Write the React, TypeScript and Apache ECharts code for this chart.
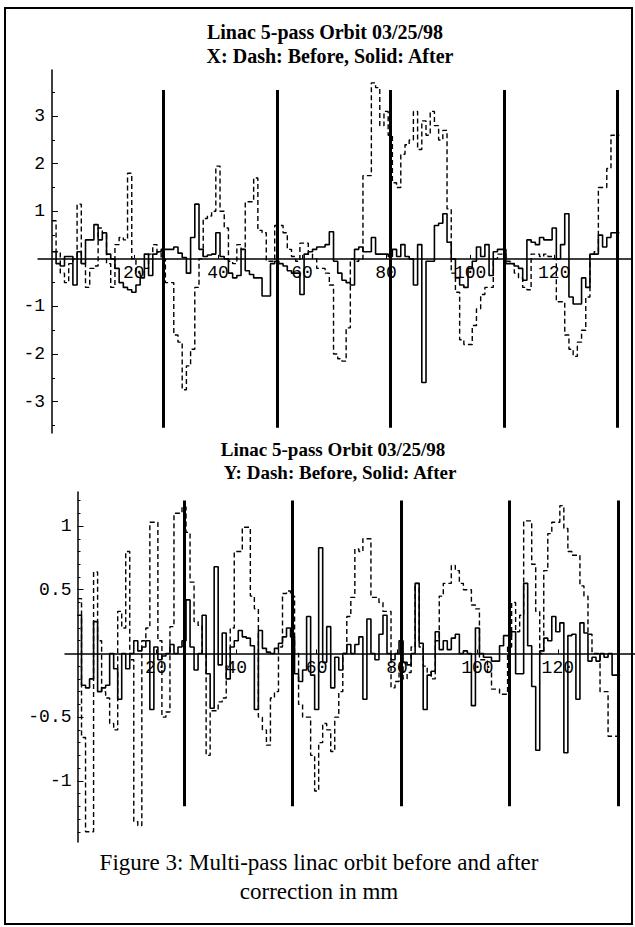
import React, { useEffect, useRef } from "react";
import * as echarts from "echarts";

// BPM index 1..135 ; pass boundaries
const passMarks = [27, 54, 81, 108, 135];
const xTickValues = [20, 40, 60, 80, 100, 120];

// Top panel (X plane), mm
const xBefore = [
  0.8, 0.15, -0.3, -0.5, -0.1, 0.0, 1.15, -0.1, -0.6, -0.2,
  -0.15, 0.65, 0.55, -0.1, -0.6, 0.3, 0.45, 0.4, 1.8, 0.0,
  -0.3, -0.35, -0.2, 0.1, 0.3, 0.15, 0.0, -0.5, -0.5, -1.6,
  -1.75, -2.75, -2.25, -1.9, -0.6, 0.0, 0.85, 0.9, 1.0, 1.95,
  1.0, 0.65, -0.05, -0.1, 0.3, 0.2, 1.2, 1.2, 1.7, 0.6,
  0.55, -0.05, -0.05, 0.7, 0.7, 0.55, 0.2, 0.05, -0.05, 0.33,
  0.33, 0.1, 0.0, -0.2, -0.2, -0.3, -0.55, -2.0, -2.1, -2.15,
  -1.45, 0.0, -0.05, 0.0, 1.75, 1.75, 3.7, 3.6, 2.8, 3.1,
  2.6, 1.6, 1.5, 2.2, 2.4, 2.5, 3.1, 2.3, 2.9, 2.6,
  3.1, 2.8, 2.5, 2.7, 1.05, -0.3, -0.7, -1.7, -1.8, -1.8,
  -1.4, -1.05, -0.75, -0.6, -0.6, 0.0, 0.1, 0.1, -0.05, -0.1,
  -0.3, -0.4, -0.6, -0.65, 0.1, 0.1, 0.05, 0.1, 0.05, 0.0,
  -0.9, -0.9, -1.6, -1.9, -2.05, -1.75, -1.5, -0.8, 0.1, 0.15,
  1.5, 1.5, 1.9, 2.6, 2.6,
];
const xAfter = [
  0.15, -0.1, -0.15, 0.05, 0.05, -0.55, 0.15, -0.1, 0.4, 0.4,
  0.72, 0.4, 0.55, 0.1, 0.0, -0.2, -0.5, -0.6, -0.65, -0.7,
  -0.55, -0.4, 0.1, -0.35, 0.1, 0.15, 0.2, 0.2, 0.2, 0.25,
  0.12, 0.03, -0.3, 0.45, 1.15, 0.2, 0.05, 0.08, 0.1, 0.55,
  0.05, 0.0, -0.3, -0.4, -0.35, 0.2, -0.25, -0.33, -0.4, -0.4,
  -0.78, -0.78, -0.1, -0.05, -0.1, -0.15, -0.25, -0.3, -0.3, -0.75,
  0.1, 0.15, 0.2, 0.25, 0.25, 0.3, 0.57, -0.05, -0.3, -0.45,
  -0.5, -0.55, 0.2, 0.25, 0.15, 0.15, 0.45, 0.1, 0.1, 0.1,
  0.05, 0.2, 0.05, 0.3, 0.05, 0.0, -0.55, 0.3, -2.6, -0.05,
  -0.05, 0.7, 0.75, 0.95, 0.35, 0.0, -0.4, -0.55, -0.6, -0.2,
  -0.05, 0.25, 0.05, 0.3, -0.35, 0.15, 0.2, 0.2, -0.1, -0.1,
  -0.15, -0.2, -0.45, 0.4, 0.35, 0.3, 0.45, 0.4, 0.4, 0.65,
  0.0, 0.3, 0.95, -0.8, -0.95, -0.95, -0.4, -0.6, 0.1, 0.1,
  0.5, 0.25, 0.45, 0.55, 0.55,
];

// Bottom panel (Y plane), mm
const yBefore = [
  0.43, -0.66, -1.4, -1.4, 0.64, 0.1, -0.3, -0.35, -0.55, -0.6,
  0.33, 0.2, 0.8, -0.05, -1.32, -1.35, 0.1, 0.2, 1.03, 1.03,
  0.1, -0.5, -0.46, 0.21, 1.1, 1.1, 1.15, 0.95, 0.56, 0.25,
  0.22, 0.0, -0.8, -0.45, -0.45, -0.38, -0.35, -0.1, 0.2, 0.8,
  0.8, 0.99, 0.99, 0.45, 0.35, -0.5, -0.6, -0.72, -0.35, -0.3,
  0.05, 0.47, 0.49, 0.45, 0.0, -0.4, -0.5, -0.5, -0.8, -1.08,
  -0.7, -0.55, -0.6, -0.77, -0.5, -0.3, 0.0, 0.29, 0.44, 0.82,
  0.8, 0.9, 0.9, 0.44, 0.44, 0.4, 0.33, 0.33, -0.27, -0.22,
  -0.1, -0.2, -0.15, 0.05, 0.55, 0.05, -0.1, -0.15, -0.2, 0.1,
  0.45, 0.55, 0.55, 0.69, 0.65, 0.55, 0.5, 0.5, 0.38, 0.35,
  -0.05, -0.05, -0.15, -0.28, -0.28, -0.32, -0.32, 0.05, 0.4, 0.17,
  0.3, 1.04, 1.04, 0.7, 0.33, 0.0, 0.65, 0.94, 1.03, 1.03,
  1.16, 0.98, 0.8, 0.77, 0.77, 0.53, 0.45, 0.15, 0.0, 0.0,
  -0.3, -0.3, -0.65, -0.65, -0.65,
];
const yAfter = [
  0.3, -0.25, -0.27, -0.2, 0.25, -0.3, -0.27, -0.25, 0.0, -0.12,
  -0.36, 0.0, -0.12, 0.0, 0.1, 0.02, 0.05, 0.1, -0.44, 0.05,
  -0.05, -0.02, 0.0, 0.07, 0.0, 0.05, 0.1, 0.42, 0.05, -0.13,
  0.0, 0.3, -0.16, -0.43, 0.68, -0.09, 0.16, -0.2, 0.05, 0.1,
  0.18, 0.13, 0.12, 0.06, -0.44, 0.18, 0.04, 0.01, 0.0, 0.04,
  0.08, 0.13, 0.2, 0.13, -0.16, -0.22, -0.13, 0.29, -0.17, -0.44,
  0.83, -0.07, 0.21, -0.27, -0.03, -0.13, 0.0, 0.07, 0.0, 0.07,
  0.13, -0.36, 0.27, 0.0, -0.05, 0.15, 0.3, 0.0, -0.05, 0.0,
  0.1, -0.07, -0.09, 0.0, 0.55, 0.08, -0.44, -0.17, -0.14, 0.17,
  0.03, 0.1, 0.03, 0.12, 0.15, 0.0, 0.02, 0.0, -0.41, 0.2,
  0.0, -0.03, -0.03, -0.06, -0.06, 0.06, 0.14, 0.14, 0.17, -0.16,
  -0.16, 0.55, 0.06, -0.26, -0.76, 0.02, 0.12, 0.1, 0.29, 0.17,
  0.24, -0.78, 0.14, 0.15, -0.36, 0.24, 0.16, -0.06, -0.03, -0.06,
  0.0, -0.03, 0.0, -0.17, -0.17,
];

// Axis tick values
const topMajorTicks = [-3, -2, -1, 1, 2, 3];
const topMinorTicks = [-3.5, -3, -2.5, -2, -1.5, -1, -0.5, 0.5, 1, 1.5, 2, 2.5, 3, 3.5];
const botMajorTicks = [-1, -0.5, 0.5, 1];
const botMinorTicks = [
  -1.4, -1.3, -1.2, -1.1, -1, -0.9, -0.8, -0.7, -0.6, -0.5, -0.4, -0.3, -0.2, -0.1,
  0.1, 0.2, 0.3, 0.4, 0.5, 0.6, 0.7, 0.8, 0.9, 1, 1.1, 1.2,
];

const titleTop1 = "Linac 5-pass Orbit 03/25/98";
const titleTop2 = "X: Dash: Before, Solid: After";
const titleBot1 = "Linac 5-pass Orbit 03/25/98";
const titleBot2 = "Y: Dash: Before, Solid: After";
const caption1 = "Figure 3: Multi-pass linac orbit before and after";
const caption2 = "correction in mm";

const MONO = "'Liberation Mono', 'DejaVu Sans Mono', monospace";
const SERIF = "'Liberation Serif', 'DejaVu Serif', serif";

// panel geometry (layout only)
const TOP = { left: 38, top: 70, width: 594, height: 363, xMin: -2.8, xMax: 138.5, yMin: -3.66, yMax: 3.97 };
const BOT = { left: 65, top: 492, width: 570, height: 350, xMin: -2.61, xMax: 139.2, yMin: -1.48, yMax: 1.267 };

function toSteps(arr: number[]) {
  const pts: number[][] = arr.map((v, k) => [k + 1, v]);
  return [[0.5, arr[0]], ...pts, [arr.length + 0.5, arr[arr.length - 1]]];
}

function marks(lo: number, hi: number) {
  return passMarks.map((p) => [{ coord: [p, lo] }, { coord: [p, hi] }]);
}

export default function App() {
  const ref = useRef<HTMLDivElement>(null);
  useEffect(() => {
    if (!ref.current) return;
    const chart = echarts.init(ref.current, null, { renderer: "svg" });

    // height of the "axis grid" so that its bottom edge falls on y = 0
    const zeroH = (p: typeof TOP) => (p.height * p.yMax) / (p.yMax - p.yMin);

    const hiddenX = (grid: number, p: typeof TOP) => ({
      type: "value", gridIndex: grid, min: p.xMin, max: p.xMax, show: false,
      axisLine: { onZero: false }, splitLine: { show: false },
    });
    const visibleX = (grid: number, p: typeof TOP, margin: number) => ({
      type: "value",
      gridIndex: grid,
      min: p.xMin,
      max: p.xMax,
      position: "bottom",
      axisLine: { onZero: false, lineStyle: { color: "#000", width: 1.5 } },
      axisTick: { show: true, inside: true, length: 4, customValues: xTickValues, lineStyle: { color: "#000" } },
      axisLabel: {
        customValues: xTickValues,
        fontFamily: MONO,
        fontSize: 18,
        color: "#000",
        margin,
      },
      splitLine: { show: false },
    });
    const yMajor = (grid: number, p: typeof TOP, ticks: number[], offset: number, margin: number) => ({
      type: "value",
      gridIndex: grid,
      position: "left",
      min: p.yMin,
      max: p.yMax,
      offset,
      axisLine: { show: true, onZero: false, lineStyle: { color: "#000", width: 1.5 } },
      axisTick: { show: true, inside: true, length: 6, customValues: ticks, lineStyle: { color: "#000" } },
      axisLabel: {
        customValues: ticks,
        fontFamily: MONO,
        fontSize: 18,
        color: "#000",
        margin,
        formatter: (v: number) => String(v),
      },
      splitLine: { show: false },
    });
    const yMinor = (grid: number, p: typeof TOP, ticks: number[], offset: number) => ({
      type: "value",
      gridIndex: grid,
      position: "left",
      min: p.yMin,
      max: p.yMax,
      offset,
      axisLine: { show: false, onZero: false },
      axisTick: { show: true, inside: true, length: 3, customValues: ticks, lineStyle: { color: "#000" } },
      axisLabel: { show: false },
      splitLine: { show: false },
    });
    const hiddenY = (grid: number) => ({
      type: "value", gridIndex: grid, min: 0, max: 1, show: false,
      axisLine: { onZero: false }, splitLine: { show: false },
    });

    const dashed = { color: "#000", width: 1.4, type: [5, 3] };
    const solid = { color: "#000", width: 1.6, type: "solid" };
    const markStyle = {
      silent: true,
      symbol: ["none", "none"],
      label: { show: false },
      lineStyle: { color: "#000", width: 3, type: "solid" },
    };
    chart.setOption({
      animation: false,
      backgroundColor: "#fff",
      grid: [
        { left: TOP.left, top: TOP.top, width: TOP.width, height: TOP.height },
        { left: TOP.left, top: TOP.top, width: TOP.width, height: zeroH(TOP) },
        { left: BOT.left, top: BOT.top, width: BOT.width, height: BOT.height },
        { left: BOT.left, top: BOT.top, width: BOT.width, height: zeroH(BOT) },
      ],
      xAxis: [
        hiddenX(0, TOP),
        visibleX(1, TOP, 5),
        hiddenX(2, BOT),
        visibleX(3, BOT, 6),
      ],
      yAxis: [
        yMajor(0, TOP, topMajorTicks, -14, 7),
        yMinor(0, TOP, topMinorTicks, -14),
        yMajor(2, BOT, botMajorTicks, -12.5, 6),
        yMinor(2, BOT, botMinorTicks, -12.5),
        hiddenY(1),
        hiddenY(3),
      ],
      series: [
        {
          type: "line", xAxisIndex: 0, yAxisIndex: 0, step: "middle", showSymbol: false,
          data: toSteps(xBefore), lineStyle: dashed, z: 3,
        },
        {
          type: "line", xAxisIndex: 0, yAxisIndex: 0, step: "middle", showSymbol: false,
          data: toSteps(xAfter), lineStyle: solid, z: 4,
          markLine: { ...markStyle, data: marks(-3.55, 3.55) },
        },
        {
          type: "line", xAxisIndex: 2, yAxisIndex: 2, step: "middle", showSymbol: false,
          data: toSteps(yBefore), lineStyle: dashed, z: 3,
        },
        {
          type: "line", xAxisIndex: 2, yAxisIndex: 2, step: "middle", showSymbol: false,
          data: toSteps(yAfter), lineStyle: solid, z: 4,
          markLine: { ...markStyle, data: marks(-1.2, 1.2) },
        },
      ],
      graphic: [
        {
          type: "rect",
          shape: { x: 5, y: 8, width: 627, height: 916 },
          style: { fill: "none", stroke: "#000", lineWidth: 2 },
          silent: true,
        },
        { type: "text", x: 325, y: 32, style: { text: titleTop1, font: `bold 20px ${SERIF}`, fill: "#000", align: "center", verticalAlign: "middle" } },
        { type: "text", x: 330, y: 56, style: { text: titleTop2, font: `bold 20px ${SERIF}`, fill: "#000", align: "center", verticalAlign: "middle" } },
        { type: "text", x: 333, y: 449, style: { text: titleBot1, font: `bold 19px ${SERIF}`, fill: "#000", align: "center", verticalAlign: "middle" } },
        { type: "text", x: 340, y: 472, style: { text: titleBot2, font: `bold 19px ${SERIF}`, fill: "#000", align: "center", verticalAlign: "middle" } },
        { type: "text", x: 319, y: 862, style: { text: caption1, font: `23px ${SERIF}`, fill: "#000", align: "center", verticalAlign: "middle" } },
        { type: "text", x: 319, y: 891, style: { text: caption2, font: `23px ${SERIF}`, fill: "#000", align: "center", verticalAlign: "middle" } },
      ],
    });
    return () => chart.dispose();
  }, []);
  return (
    <div
      ref={ref}
      style={{ position: "fixed", left: 0, top: 0, width: 635, height: 927, background: "#fff" }}
    />
  );
}
